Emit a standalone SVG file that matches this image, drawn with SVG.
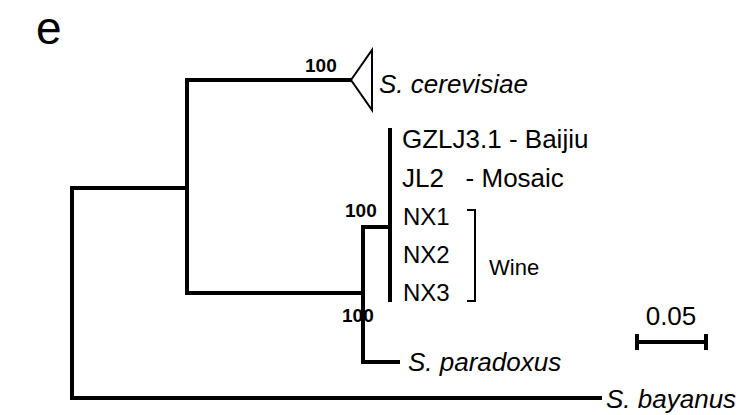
<svg xmlns="http://www.w3.org/2000/svg" width="740" height="415" viewBox="0 0 740 415">
<style>
.br{fill:none;stroke:#000;stroke-width:4;stroke-linecap:square;stroke-linejoin:miter}
.t{font-family:"Liberation Sans",Arial,sans-serif;font-size:26px;fill:#000}
.n{font-family:"Liberation Sans",Arial,sans-serif;font-size:24px;fill:#000}
.i{font-style:italic}
.b{font-family:"Liberation Sans",Arial,sans-serif;font-size:19px;font-weight:bold;fill:#000}
</style>
<rect width="740" height="415" fill="#fff"/>
<text x="36" y="44" font-family="Liberation Sans, Arial, sans-serif" font-size="46">e</text>
<g id="connectors">
<path class="br" d="M72,188 V398 H600"/>
<path class="br" d="M72,188 H187"/>
<path class="br" d="M187,80 V293"/>
<path class="br" d="M187,80 H350"/>
<path class="br" d="M187,293 H363"/>
<path class="br" d="M363,227 V362 H398"/>
<path class="br" d="M363,227 H390"/>
<path d="M390,128 V302" stroke="#000" stroke-width="4" fill="none"/>
</g>
<g id="cerevisiae">
<polygon points="351,80 372,50 372,110" fill="#fff" stroke="#000" stroke-width="2"/>
<text class="t i" x="379" y="93">S. cerevisiae</text>
<text class="b" x="305" y="72">100</text>
</g>
<g id="GZLJ3.1"><text class="t" x="402" y="148">GZLJ3.1 - Baijiu</text></g>
<g id="JL2"><text class="t" x="402" y="187" xml:space="preserve">JL2   - Mosaic</text></g>
<g id="NX1"><text class="n" x="403" y="225">NX1</text></g>
<g id="NX2"><text class="n" x="403" y="263">NX2</text></g>
<g id="NX3"><text class="n" x="403" y="301">NX3</text></g>
<g id="wine">
<path d="M467,210 H475 V301 H467" fill="none" stroke="#000" stroke-width="2"/>
<text class="n" x="489" y="275" style="font-size:22px">Wine</text>
</g>
<g id="bootstrap">
<text class="b" x="345" y="217">100</text>
<text class="b" x="342" y="322">100</text>
</g>
<g id="paradoxus"><text class="t i" x="408" y="371">S. paradoxus</text></g>
<g id="bayanus"><text class="t i" x="606" y="408">S. bayanus</text></g>
<g id="scale">
<path d="M637,342 H706 M637,334 V350 M706,334 V350" fill="none" stroke="#000" stroke-width="4"/>
<text class="n" x="671" y="325" text-anchor="middle" style="font-size:26px">0.05</text>
</g>
</svg>
